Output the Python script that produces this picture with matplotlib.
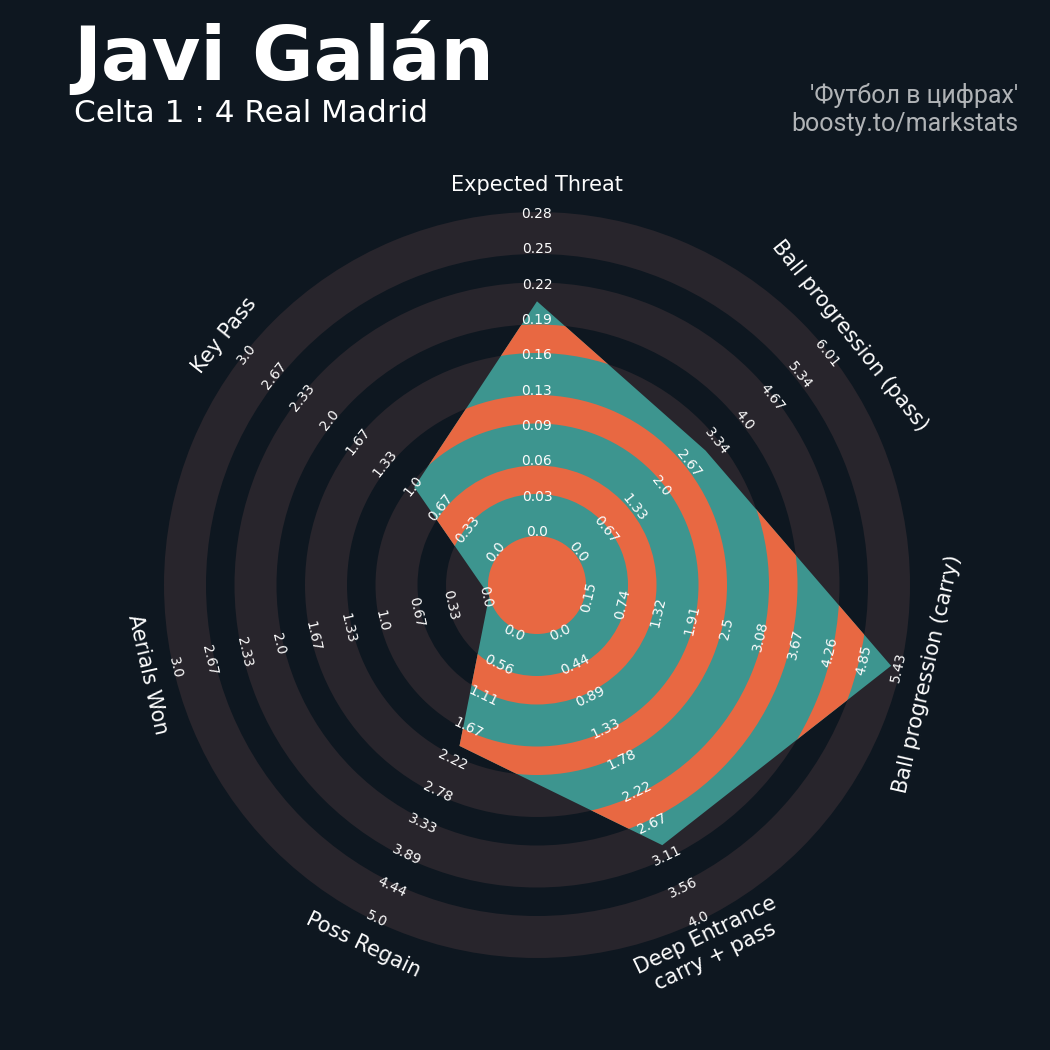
import numpy as np
import matplotlib.pyplot as plt
from matplotlib.patches import Polygon, Circle, Annulus

# data
params = ['Expected Threat', 'Ball progression (pass)', 'Ball progression (carry)',
          'Deep Entrance\ncarry + pass', 'Poss Regain', 'Aerials Won', 'Key Pass']
low = [0.0, 0.0, 0.15, 0.0, 0.0, 0.0, 0.0]
high = [0.283, 6.01, 5.43, 4.0, 5.0, 3.0, 3.0]
values = [0.205, 3.09, 5.27, 2.96, 2.0, 0.0, 1.0]
range_labels = [
    ['0.0', '0.03', '0.06', '0.09', '0.13', '0.16', '0.19', '0.22', '0.25', '0.28'],
    ['0.0', '0.67', '1.33', '2.0', '2.67', '3.34', '4.0', '4.67', '5.34', '6.01'],
    ['0.15', '0.74', '1.32', '1.91', '2.5', '3.08', '3.67', '4.26', '4.85', '5.43'],
    ['0.0', '0.44', '0.89', '1.33', '1.78', '2.22', '2.67', '3.11', '3.56', '4.0'],
    ['0.0', '0.56', '1.11', '1.67', '2.22', '2.78', '3.33', '3.89', '4.44', '5.0'],
    ['0.0', '0.33', '0.67', '1.0', '1.33', '1.67', '2.0', '2.33', '2.67', '3.0'],
    ['0.0', '0.33', '0.67', '1.0', '1.33', '1.67', '2.0', '2.33', '2.67', '3.0'],
]
title = 'Javi Galán'
subtitle = 'Celta 1 : 4 Real Madrid'
credit = "'Футбол в цифрах'\nboosty.to/markstats"

BG = '#0e1720'
RING = '#28252c'
TEAL = '#3d958f'
ORANGE = '#e86842'
TXT = '#fcfcfc'

# geometry (axes units = pixels)
c = 49.0      # center circle radius
R = 373.0     # outer radius
ring_w = 42.0
gap_w = (R - c - 5 * ring_w) / 4

fig = plt.figure(figsize=(10.5, 10.5), dpi=100, facecolor=BG)
ax = fig.add_axes([(537 - 400) / 1050, (1050 - 585 - 400) / 1050, 800 / 1050, 800 / 1050])
ax.set_xlim(-400, 400)
ax.set_ylim(-400, 400)
ax.set_aspect('equal')
ax.axis('off')

n = len(params)
theta = np.deg2rad(90 - np.arange(n) * 360 / n)

# background rings
for k in range(5):
    r_in = c + k * (ring_w + gap_w)
    ax.add_patch(Annulus((0, 0), r_in + ring_w, ring_w, facecolor=RING, edgecolor='none', zorder=1))

# radar polygon
lo = np.array(low)
hi = np.array(high)
v = np.array(values)
rad = c + (v - lo) / (hi - lo) * (R - c)
pts = np.column_stack([rad * np.cos(theta), rad * np.sin(theta)])
poly = Polygon(pts, closed=True, facecolor=TEAL, edgecolor='none', zorder=2)
ax.add_patch(poly)

# orange rings inside the polygon
for k in range(4):
    r_in = c + ring_w + k * (ring_w + gap_w)
    a = Annulus((0, 0), r_in + gap_w, gap_w, facecolor=ORANGE, edgecolor='none', zorder=3)
    ax.add_patch(a)
    a.set_clip_path(poly)

ax.add_patch(Circle((0, 0), c, facecolor=ORANGE, edgecolor='none', zorder=4))


def rot_of(t):
    r = np.rad2deg(t) - 90
    r = (r + 180) % 360 - 180
    if r > 90:
        r -= 180
    elif r < -90:
        r += 180
    return r


ring_r = np.linspace(c + 4, R - 2, 10)
for i in range(n):
    rot = rot_of(theta[i])
    for k, lab in enumerate(range_labels[i]):
        x = ring_r[k] * np.cos(theta[i])
        y = ring_r[k] * np.sin(theta[i])
        ax.text(x, y, lab, color=TXT, fontsize=10, ha='center', va='center',
                rotation=rot, rotation_mode='anchor', zorder=6)
    ax.text(400 * np.cos(theta[i]), 400 * np.sin(theta[i]), params[i], color=TXT,
            fontsize=15, ha='center', va='center', multialignment='center',
            rotation=rot, rotation_mode='anchor', zorder=6)

fig.text(73 / 1050, 1 - 80 / 1050, title, color='white', fontsize=54,
         fontweight='bold', ha='left', va='baseline')
fig.text(74 / 1050, 1 - 122 / 1050, subtitle, color='white', fontsize=22.4,
         ha='left', va='baseline')
fig.text(1018 / 1050, 1 - 131 / 1050, credit, color='#b0b3b6', fontsize=18,
         family='Roboto', ha='right', va='baseline', multialignment='right')

fig.savefig('out.png', dpi=100, facecolor=BG)
